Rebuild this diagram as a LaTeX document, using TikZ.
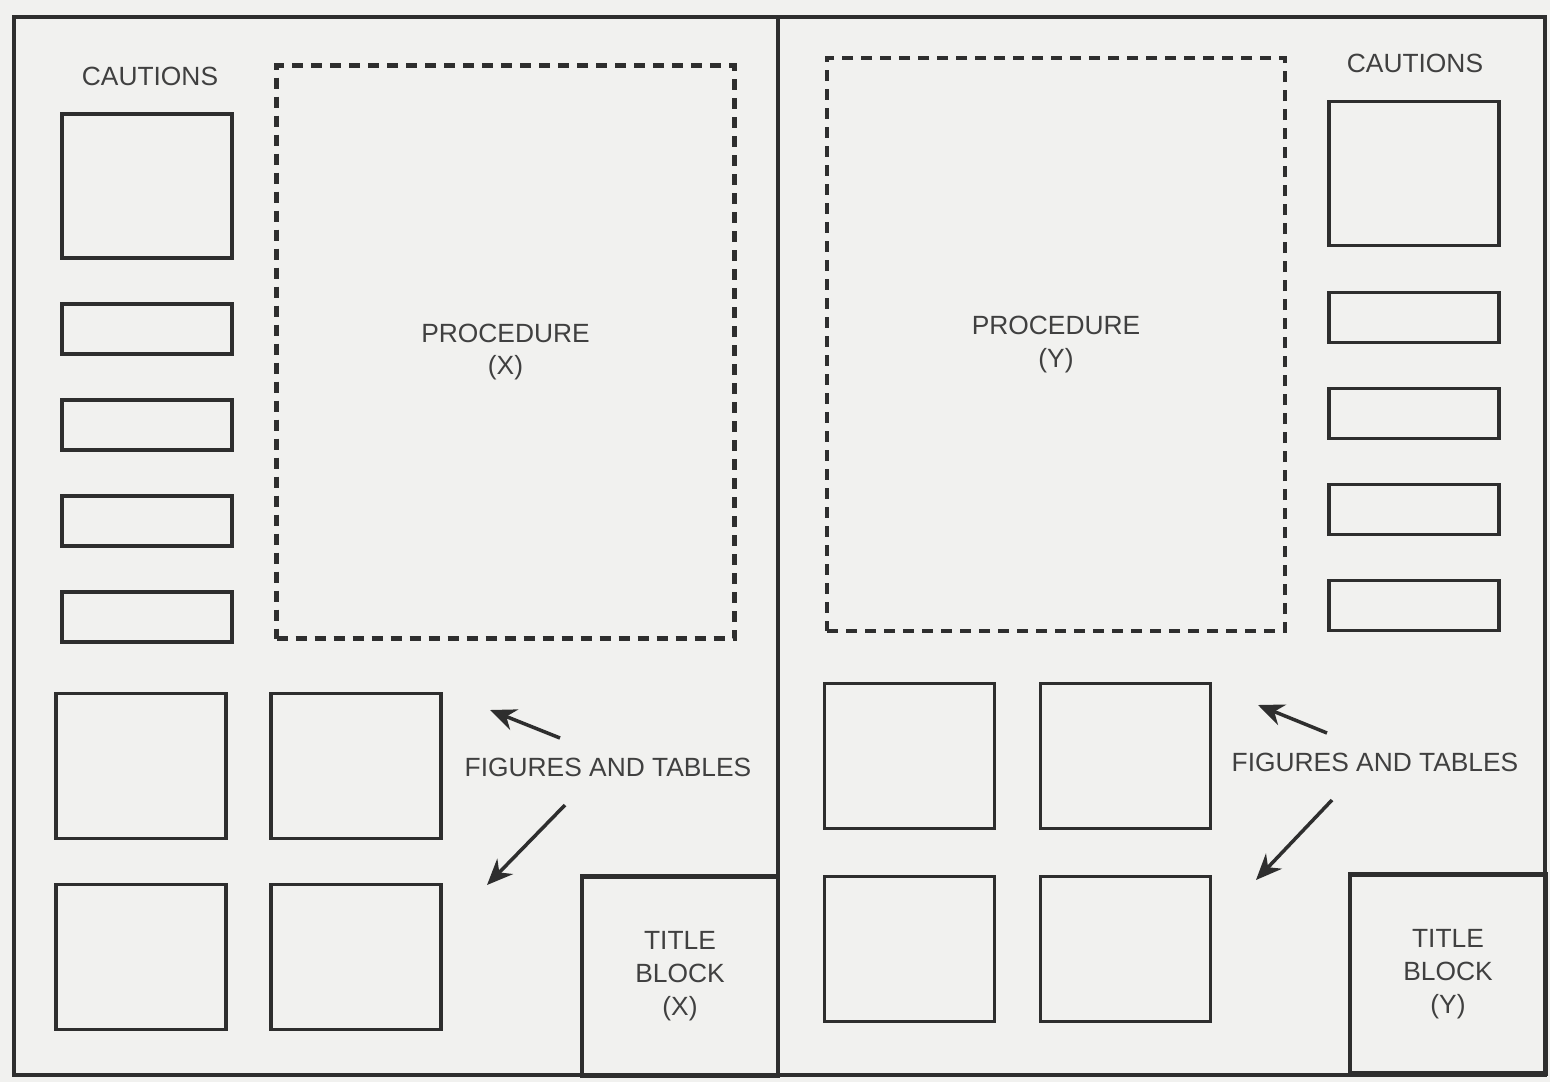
\documentclass[tikz,border=0pt]{standalone}
\usepackage{fontspec}
\setmainfont{Liberation Sans}
\usepackage{tikz}
\usetikzlibrary{arrows.meta, positioning}
\definecolor{InkGray}{HTML}{2E2E2E}
\definecolor{TextGray}{HTML}{404040}
\definecolor{PaperGray}{HTML}{F1F1EF}
\tikzset{
  % Box styles
  cautionbox/.style={rectangle, draw=InkGray, line width=1pt, minimum width=17mm, minimum height=14.4mm, inner sep=0pt, outer sep=0pt},
  notebox/.style={cautionbox, minimum height=5mm},
  figbox/.style={rectangle, draw=InkGray, line width=1pt, minimum width=17mm, minimum height=14.5mm, inner sep=0pt, outer sep=0pt},
  procbox/.style={rectangle, draw=InkGray, line width=1.2pt, dash pattern=on 1.1mm off 0.8mm, minimum width=45.8mm, minimum height=57.3mm, inner sep=0pt, outer sep=0pt, text=TextGray, font=\fontsize{7.5}{9.2}\selectfont, align=center},
  titlebox/.style={rectangle, draw=InkGray, line width=1.2pt, minimum width=19.6mm, minimum height=19.9mm, inner sep=0pt, outer sep=0pt, text=TextGray, font=\fontsize{7.5}{9.4}\selectfont, align=center},
  % Text styles
  captext/.style={text=TextGray, font=\fontsize{7.5}{9.2}\selectfont, inner sep=0pt},
  % Arrow styles
  arrow/.style={-{Stealth[length=2.6mm, width=2.2mm]}, line width=1pt, InkGray}
}

\begin{document}
\begin{tikzpicture}[x=1mm, y=-1mm]
  % Page and frame
  \useasboundingbox[fill=PaperGray] (0,0) rectangle (155,108.2);
  \draw[InkGray, line width=1.3pt] (1.4,1.7) rectangle (154.5,107.5);
  \draw[InkGray, line width=1.3pt] (77.8,1.7) -- (77.8,107.5);

  % Left page: cautions
  \node[captext] (cautX) at (15.0,7.6) {CAUTIONS};
  \node[cautionbox] (cX0) at (14.7,18.6) {};
  \node[notebox, below=4.6mm of cX0] (cX1) {};
  \node[notebox, below=4.6mm of cX1] (cX2) {};
  \node[notebox, below=4.6mm of cX2] (cX3) {};
  \node[notebox, below=4.6mm of cX3] (cX4) {};

  % Left page: procedure
  \node[procbox] (procX) at (50.55,35.2) {PROCEDURE\\(X)};

  % Left page: figures and tables
  \node[figbox] (fX1) at (14.1,76.6) {};
  \node[figbox, right=4.5mm of fX1] (fX2) {};
  \node[figbox, below=4.6mm of fX1] (fX3) {};
  \node[figbox, right=4.5mm of fX3] (fX4) {};
  \node[captext] (figX) at (60.8,76.7) {FIGURES AND TABLES};
  \coordinate (aX1) at (56.0,73.8);
  \coordinate (bX1) at (49.0,71.0);
  \coordinate (aX2) at (56.5,80.5);
  \coordinate (bX2) at (48.7,88.5);
  \draw[arrow] (aX1) -- (bX1);
  \draw[arrow] (aX2) -- (bX2);

  % Left page: title block
  \node[titlebox] (titleX) at (68.0,97.6) {TITLE\\BLOCK\\(X)};

  % Right page: cautions
  \node[captext] (cautY) at (141.5,6.3) {CAUTIONS};
  \node[cautionbox] (cY0) at (141.4,17.35) {};
  \node[notebox, below=4.7mm of cY0] (cY1) {};
  \node[notebox, below=4.6mm of cY1] (cY2) {};
  \node[notebox, below=4.6mm of cY2] (cY3) {};
  \node[notebox, below=4.6mm of cY3] (cY4) {};

  % Right page: procedure
  \node[procbox] (procY) at (105.6,34.45) {PROCEDURE\\(Y)};

  % Right page: figures and tables
  \node[figbox] (fY1) at (90.95,75.6) {};
  \node[figbox, right=4.6mm of fY1] (fY2) {};
  \node[figbox, below=4.8mm of fY1] (fY3) {};
  \node[figbox, right=4.6mm of fY3] (fY4) {};
  \node[captext] (figY) at (137.5,76.2) {FIGURES AND TABLES};
  \coordinate (aY1) at (132.7,73.3);
  \coordinate (bY1) at (125.8,70.5);
  \coordinate (aY2) at (133.2,80.0);
  \coordinate (bY2) at (125.6,88.0);
  \draw[arrow] (aY1) -- (bY1);
  \draw[arrow] (aY2) -- (bY2);

  % Right page: title block
  \node[titlebox] (titleY) at (144.8,97.4) {TITLE\\BLOCK\\(Y)};
\end{tikzpicture}
\end{document}
